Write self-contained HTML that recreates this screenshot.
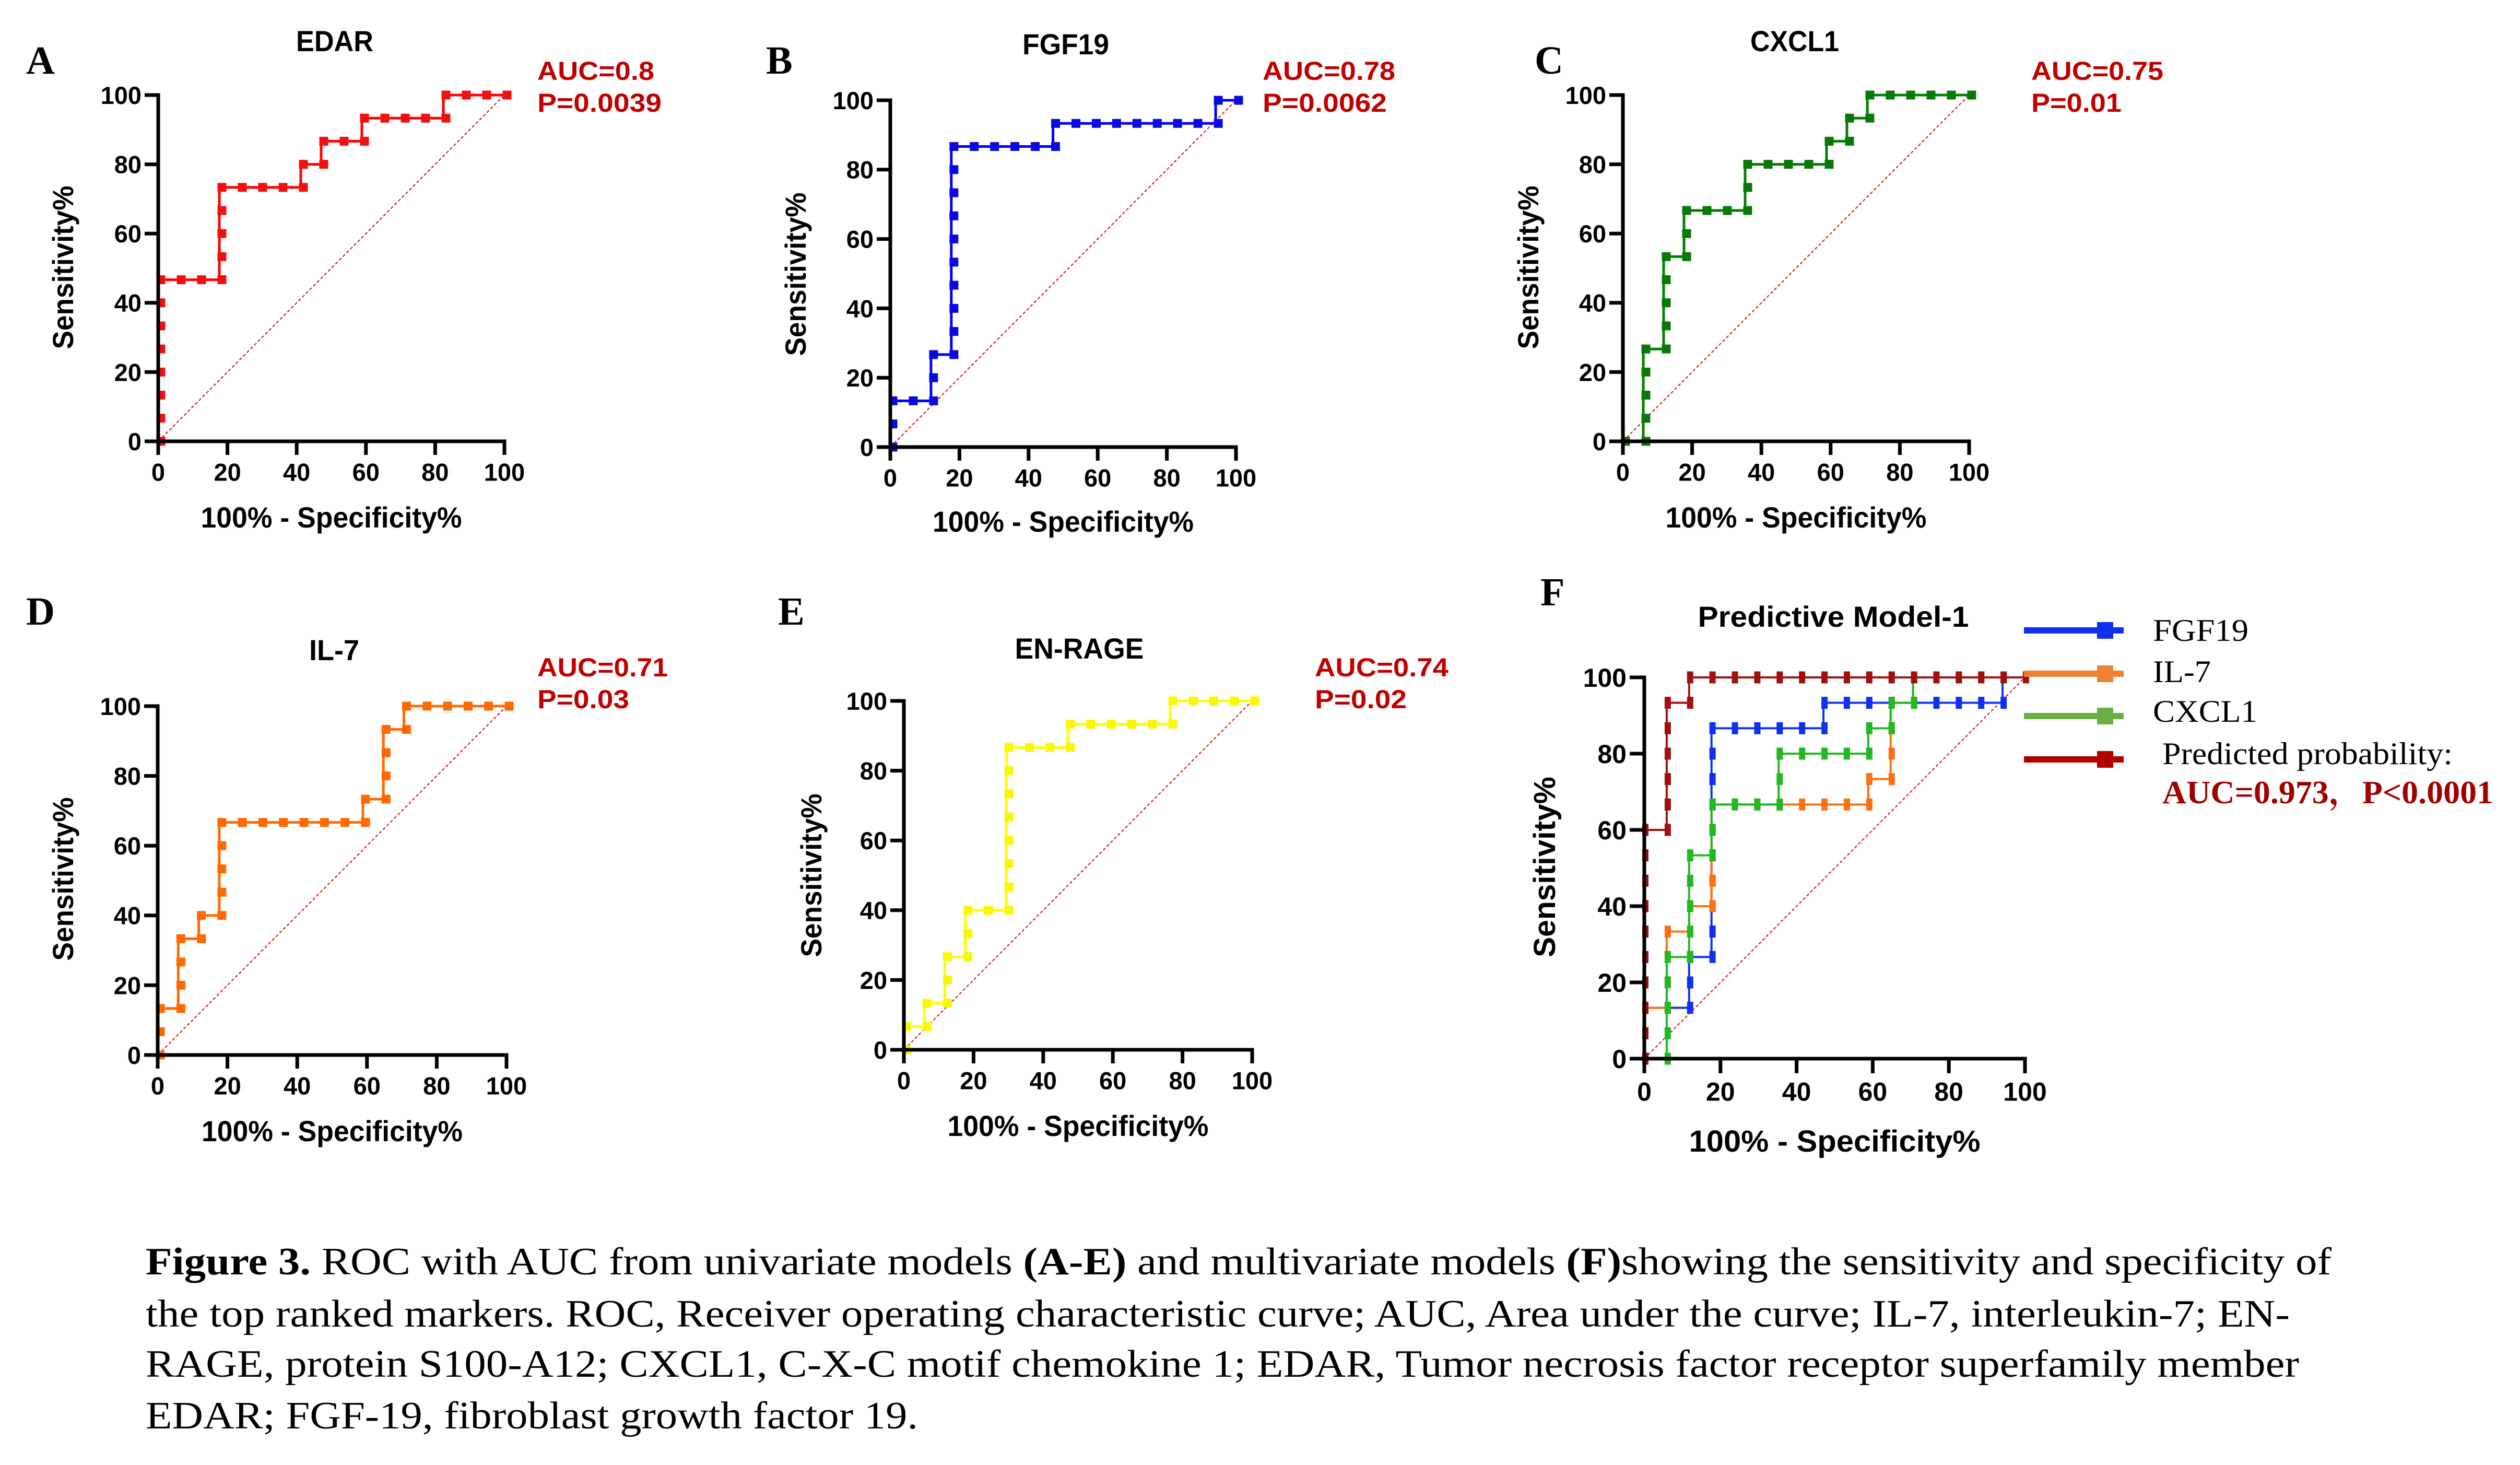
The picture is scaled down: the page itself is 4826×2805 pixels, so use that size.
<!DOCTYPE html>
<html><head><meta charset="utf-8">
<style>
html,body{margin:0;padding:0;background:#fff;}
svg{display:block;}
</style></head>
<body>
<svg id="fig" width="4826" height="2805" viewBox="0 0 4826 2805" xmlns="http://www.w3.org/2000/svg">
<rect x="0" y="0" width="4826" height="2805" fill="#fff"/>
<g id="caption" font-family="'Liberation Serif', serif" font-size="74" fill="#000">
<text x="279" y="2440" textLength="4186" lengthAdjust="spacingAndGlyphs"><tspan font-weight="bold">Figure 3.</tspan> ROC with AUC from univariate models <tspan font-weight="bold">(A-E)</tspan> and multivariate models <tspan font-weight="bold">(F)</tspan>showing the sensitivity and specificity of</text>
<text x="279" y="2540" textLength="4106" lengthAdjust="spacingAndGlyphs">the top ranked markers. ROC, Receiver operating characteristic curve; AUC, Area under the curve; IL-7, interleukin-7; EN-</text>
<text x="279" y="2636" textLength="4124" lengthAdjust="spacingAndGlyphs">RAGE, protein S100-A12; CXCL1, C-X-C motif chemokine 1; EDAR, Tumor necrosis factor receptor superfamily member</text>
<text x="279" y="2735" textLength="1479" lengthAdjust="spacingAndGlyphs">EDAR; FGF-19, fibroblast growth factor 19.</text>
</g>
</svg>
<script>
// ROC data: cumulative false-positive counts (of 17 controls) and true-positive counts (of 15 cases) at curve corners
const nControls = 17;
const nCases = 15;
const xTicks = [0, 20, 40, 60, 80, 100];
const yTicks = [0, 20, 40, 60, 80, 100];
const edarFP = [0,0,3,3,7,7,8,8,10,10,14,14,17];
const edarTP = [0,7,7,11,11,12,12,13,13,14,14,15,15];
const fgf19FP = [0,0,2,2,3,3,8,8,16,16,17];
const fgf19TP = [0,2,2,4,4,13,13,14,14,15,15];
const cxcl1FP = [0,1,1,2,2,3,3,6,6,10,10,11,11,12,12,17];
const cxcl1TP = [0,0,4,4,8,8,10,10,12,12,13,13,14,14,15,15];
const il7FP = [0,0,1,1,2,2,3,3,10,10,11,11,12,12,17];
const il7TP = [0,2,2,5,5,6,6,10,10,11,11,14,14,15,15];
const enrageFP = [0,0,1,1,2,2,3,3,5,5,8,8,13,13,17];
const enrageTP = [0,1,1,2,2,4,4,6,6,13,13,14,14,15,15];
const predFP = [0,0,1,1,2,2,17];
const predTP = [0,9,9,14,14,15,15];
const aucLabels = ["AUC=0.8","AUC=0.78","AUC=0.75","AUC=0.71","AUC=0.74"];
const pLabels = ["P=0.0039","P=0.0062","P=0.01","P=0.03","P=0.02"];
const legendLabels = ["FGF19","IL-7","CXCL1","Predicted probability:"];

const NS = "http://www.w3.org/2000/svg";
const svg = document.getElementById('fig');
function mk(tag, attrs, parent){
  const e = document.createElementNS(NS, tag);
  for (const k in attrs) e.setAttribute(k, attrs[k]);
  (parent||svg).appendChild(e);
  return e;
}
function txt(parent, x, y, s, attrs){
  const t = mk('text', Object.assign({x:x, y:y}, attrs), parent);
  t.textContent = s;
  return t;
}
const SANS = "'Liberation Sans Narrow','Liberation Sans',sans-serif";

function drawPanel(p){
  const g = mk('g', {});
  
  
  const sx = v => p.x0 + (p.x1 - p.x0) * v / 100;
  const sy = v => p.y0 - (p.y0 - p.y1) * v / 100;
  const fs = p.tickFont;
  const L = txt(g, p.letterX, p.letterY, p.letter, {'font-family':"'Liberation Serif',serif",'font-weight':'bold','font-size':p.letterSize||76});
  
  
  const T = txt(g, p.titleX, p.titleY, p.title, {'font-family':SANS,'font-weight':'bold','font-size':p.titleFont,'text-anchor':'middle','textLength':p.titleW,'lengthAdjust':'spacingAndGlyphs'});
  
  
  const d = mk('line', {x1:sx(0), y1:sy(0), x2:sx(100), y2:sy(100), stroke:'#e02020', 'stroke-width':2.2, 'stroke-dasharray':'6 4'}, g);
  
  
  p.series.forEach(s => {
    const sg = mk('g', {}, g);
    
    
    let pts = [];
    for (let i = 0; i < s.fp.length; i++) pts.push(sx(s.fp[i]*100/nControls) + ',' + sy(s.tp[i]*100/nCases));
    mk('polyline', {points:pts.join(' '), fill:'none', stroke:s.color, 'stroke-width':p.lw, 'stroke-linejoin':'miter'}, sg);
    const seen = {};
    for (let i = 0; i < s.fp.length; i++) {
      const a = [s.fp[i], s.tp[i]];
      const b = i+1 < s.fp.length ? [s.fp[i+1], s.tp[i+1]] : a;
      const n = Math.max(Math.abs(b[0]-a[0]), Math.abs(b[1]-a[1]));
      for (let k = 0; k <= n; k++) {
        const fx = a[0] + (n ? (b[0]-a[0])*k/n : 0);
        const fy = a[1] + (n ? (b[1]-a[1])*k/n : 0);
        const key = fx + '_' + fy;
        if (seen[key]) continue;
        seen[key] = 1;
        const r = mk('rect', {x:sx(fx*100/nControls) + p.mdx - p.mw/2, y:sy(fy*100/nCases) - p.mh/2, width:p.mw, height:p.mh, fill:s.marker||s.color}, sg);
        
        
      }
    }
  });
  const ax = mk('g', {stroke:'#000','stroke-width':p.aw,'stroke-linecap':'butt'}, g);
  
  
  mk('line', {x1:p.x0, y1:p.y1 - p.aw/2, x2:p.x0, y2:p.y0 + p.aw/2}, ax);
  mk('line', {x1:p.x0 - p.aw/2, y1:p.y0, x2:p.x1 + p.aw/2, y2:p.y0}, ax);
  yTicks.forEach(v => {
    mk('line', {x1:p.x0 - p.tl, y1:sy(v), x2:p.x0, y2:sy(v)}, ax);
    const t = txt(g, p.x0 - p.tl - 6, sy(v) + fs*0.36, String(v), {'font-family':SANS,'font-weight':'bold','font-size':fs,'text-anchor':'end'});
    
    
  });
  xTicks.forEach(v => {
    mk('line', {x1:sx(v), y1:p.y0, x2:sx(v), y2:p.y0 + p.tl}, ax);
    const t = txt(g, sx(v), p.y0 + p.tl + fs*1.05, String(v), {'font-family':SANS,'font-weight':'bold','font-size':fs,'text-anchor':'middle'});
    
    
  });
  const xl = txt(g, (p.x0+p.x1)/2 + p.xlDx, p.xlY, '100% - Specificity%', {'font-family':SANS,'font-weight':'bold','font-size':p.labFont,'text-anchor':'middle','textLength':p.xlW,'lengthAdjust':'spacingAndGlyphs'});
  
  
  const yl = txt(g, 0, 0, 'Sensitivity%', {'font-family':"'Liberation Sans',sans-serif",'font-weight':'bold','font-size':p.labFont,'text-anchor':'middle','textLength':p.ylW,'lengthAdjust':'spacingAndGlyphs','transform':'translate(' + p.ylX + ',' + p.ylY + ') rotate(-90)'});
  
  
  if (p.auc !== undefined) {
    const a1 = txt(g, p.aucX, p.aucY, aucLabels[p.auc], {'font-family':SANS,'font-weight':'bold','font-size':50,'fill':'#c00000','textLength':p.aucW,'lengthAdjust':'spacingAndGlyphs'});
    
    
    const a2 = txt(g, p.aucX, p.aucY + 61, pLabels[p.auc], {'font-family':SANS,'font-weight':'bold','font-size':50,'fill':'#c00000','textLength':p.pW,'lengthAdjust':'spacingAndGlyphs'});
    
    
  }
  return g;
}

const base = {lw:5, mw:17, mh:17, mdx:5, aw:7, tl:26, tickFont:47, titleFont:56, labFont:56, xlDx:0};
drawPanel(Object.assign({}, base, {name:'edar', letter:'A', letterX:50, letterY:141, title:'EDAR', titleX:641, titleY:98, titleW:148,
  x0:303, x1:966, y1:182, y0:845, xlY:1010, xlW:500, ylX:140, ylY:512, ylW:313, auc:0, aucX:1029, aucY:153, aucW:224, pW:238,
  series:[{name:'edar', fp:edarFP, tp:edarTP, color:'#ff0000', marker:'#f01010'}]}));
drawPanel(Object.assign({}, base, {name:'fgf19', letter:'B', letterX:1467, letterY:141, title:'FGF19', titleX:2041, titleY:104, titleW:166,
  x0:1705, x1:2367, y1:192, y0:856, xlY:1018, xlW:500, ylX:1543, ylY:525, ylW:313, auc:1, aucX:2418, aucY:153, aucW:254, pW:238,
  series:[{name:'fgf19', fp:fgf19FP, tp:fgf19TP, color:'#0000ff', marker:'#0a0ae0'}]}));
drawPanel(Object.assign({}, base, {name:'cxcl1', letter:'C', letterX:2939, letterY:141, title:'CXCL1', titleX:3437, titleY:98, titleW:170,
  x0:3108, x1:3771, y1:182, y0:845, xlY:1010, xlW:500, ylX:2946, ylY:512, ylW:313, auc:2, aucX:3890, aucY:153, aucW:253, pW:173,
  series:[{name:'cxcl1', fp:cxcl1FP, tp:cxcl1TP, color:'#008000', marker:'#087808'}]}));
drawPanel(Object.assign({}, base, {name:'il7', letter:'D', letterX:50, letterY:1196, title:'IL-7', titleX:640, titleY:1264, titleW:96,
  x0:302, x1:970, y1:1352, y0:2020, xlY:2185, xlW:500, ylX:140, ylY:1683, ylW:313, auc:3, aucX:1029, aucY:1295, aucW:250, pW:176,
  series:[{name:'il7', fp:il7FP, tp:il7TP, color:'#ff6a00', marker:'#ff6a00'}]}));
drawPanel(Object.assign({}, base, {name:'en-rage', letter:'E', letterX:1490, letterY:1196, title:'EN-RAGE', titleX:2067, titleY:1261, titleW:247,
  x0:1731, x1:2398, y1:1342, y0:2010, xlY:2175, xlW:500, ylX:1573, ylY:1676, ylW:313, auc:4, aucX:2518, aucY:1295, aucW:256, pW:176,
  series:[{name:'en-rage', fp:enrageFP, tp:enrageTP, color:'#ffff00', marker:'#f8f800'}]}));
drawPanel(Object.assign({}, base, {name:'predictive-model', letter:'F', letterX:2950, letterY:1159, title:'Predictive Model-1', titleX:3511, titleY:1200, titleW:519,
  x0:3149, x1:3878, y1:1297, y0:2027, tickFont:50, tl:28, mw:12, mh:23, mdx:2, lw:4, xlY:2205, xlW:558, ylX:2978, ylY:1660, ylW:346, labFont:58,
  series:[
    {name:'fgf19', fp:fgf19FP, tp:fgf19TP, color:'#1030f0'},
    {name:'il7', fp:il7FP, tp:il7TP, color:'#ff7010'},
    {name:'cxcl1', fp:cxcl1FP, tp:cxcl1TP, color:'#22b822'},
    {name:'predicted-probability', fp:predFP, tp:predTP, color:'#a01010'}]}));

const legColors = ['#1030f0','#ef8030','#6aaf45','#b00000'];
const legY = [1207, 1290, 1371, 1454];
const legTextY = [1227, 1306, 1382, 1463];
const legW = [183, 111, 200, 556];
const lg = mk('g', {});


legendLabels.forEach((lab, i) => {
  const e = mk('g', {}, lg);
  
  
  mk('line', {x1:3876, y1:legY[i], x2:4067, y2:legY[i], stroke:legColors[i], 'stroke-width':12}, e);
  mk('rect', {x:4047-31, y:legY[i]-16, width:31, height:32, fill:legColors[i]}, e);
  txt(e, i === 3 ? 4141 : 4123, legTextY[i], lab, {'font-family':"'Liberation Serif',serif",'font-size':60,'textLength':legW[i],'lengthAdjust':'spacingAndGlyphs'});
});
const aucF = txt(lg, 4141, 1538, 'AUC=0.973，P<0.0001', {'font-family':"'Liberation Serif','Noto Serif CJK SC',serif",'font-weight':'bold','font-size':62,'fill':'#a00000','textLength':634,'lengthAdjust':'spacingAndGlyphs'});


</script>
</body></html>
